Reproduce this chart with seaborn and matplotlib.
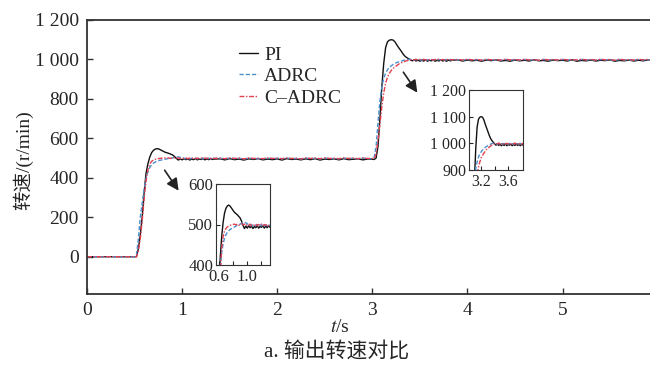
import pandas as pd
import seaborn as sb
import matplotlib.pyplot as plt

# time grid (s) shared by the three curves
t = [0, 0.5,
     0.52, 0.54, 0.56, 0.58, 0.60, 0.62, 0.64, 0.66, 0.68, 0.70, 0.72, 0.74, 0.76, 0.78,
     0.80, 0.82, 0.84, 0.86, 0.88, 0.90, 0.92, 0.94, 0.96, 0.98, 1.00, 1.02, 1.04, 1.06,
     1.08, 1.10, 1.12, 1.14, 1.16, 1.18, 1.20, 1.22, 1.24, 1.26, 1.28, 1.30, 1.32, 1.34,
     1.40, 1.45, 1.50, 1.55, 1.60, 1.65, 1.70, 1.75, 1.80, 1.85, 1.90, 1.95, 2.00, 2.05,
     2.10, 2.15, 2.20, 2.25, 2.30, 2.35, 2.40, 2.45, 2.50, 2.55, 2.60, 2.65, 2.70, 2.75,
     2.80, 2.85, 2.90, 2.95,
     3.00, 3.02, 3.04, 3.06, 3.08, 3.10, 3.12, 3.14, 3.16, 3.18, 3.20, 3.22, 3.24, 3.26,
     3.28, 3.30, 3.32, 3.34, 3.36, 3.38, 3.40, 3.42, 3.44, 3.46, 3.48, 3.50, 3.52, 3.54,
     3.56, 3.58, 3.60, 3.62, 3.64, 3.66, 3.68, 3.70, 3.72, 3.74, 3.76, 3.78, 3.80, 3.82, 3.84,
     3.90, 3.95, 4.00, 4.05, 4.10, 4.15, 4.20, 4.25, 4.30, 4.35, 4.40, 4.45, 4.50, 4.55,
     4.60, 4.65, 4.70, 4.75, 4.80, 4.85, 4.90, 4.95, 5.00, 5.05, 5.10, 5.15, 5.20, 5.25,
     5.30, 5.35, 5.40, 5.45, 5.50, 5.55, 5.60, 5.65, 5.70, 5.75, 5.80, 5.85, 5.90, 5.95]

speed_pi = [0, 0,
    0, 40, 110, 200, 320, 420, 470, 505, 528, 540,
    546, 548, 545, 540, 535, 530, 527, 524, 520, 516,
    508, 498, 490, 496, 491, 497, 492, 496, 490, 495,
    492, 497, 491, 495, 493, 497, 491, 496, 492, 497,
    493, 495,
    496, 491, 497, 492, 495, 490, 496, 493, 497, 491,
    495, 492, 496, 490, 497, 493, 495, 491, 496, 492,
    497, 490, 495, 493, 496, 491, 497, 492, 494, 496,
    491, 495,
    494, 493, 500, 560, 700, 860, 980, 1060, 1090, 1098,
    1100, 1098, 1088, 1072, 1058, 1045, 1030, 1018, 1010, 1004,
    998, 993, 998, 992, 997, 991, 996, 992, 998, 991,
    996, 993, 997, 991, 996, 992, 998, 992, 996, 991,
    997, 993, 996,
    998, 992, 997, 993, 996, 991, 997, 994, 998, 992,
    995, 991, 997, 993, 996, 992, 998, 993, 995, 991,
    997, 994, 996, 992, 998, 991, 995, 993, 997, 992,
    996, 994, 998, 991, 995, 993, 997, 992, 996, 993,
    998, 994]

speed_adrc = [0, 0,
    10, 90, 200, 270, 340, 395, 430, 452, 466, 475,
    481, 485, 488, 490, 492, 494, 496, 498, 499, 501,
    503, 505, 506, 504, 502, 499, 497, 500, 496, 499,
    497, 500, 496, 499, 497, 500, 496, 499, 497, 500,
    497, 499,
    499, 496, 500, 497, 499, 495, 500, 497, 498, 496,
    500, 497, 499, 496, 500, 497, 498, 495, 500, 497,
    499, 496, 500, 497, 498, 496, 500, 497, 499, 496,
    500, 497,
    497, 505, 560, 680, 790, 860, 905, 930, 948, 960,
    968, 975, 980, 985, 988, 991, 994, 997, 999, 1000,
    1001, 999, 997, 1000, 996, 999, 997, 1000, 996, 999,
    997, 1000, 996, 999, 997, 1000, 996, 999, 997, 1000,
    996, 999, 997,
    999, 996, 1000, 997, 999, 995, 1000, 997, 998, 996,
    1000, 997, 999, 996, 1000, 997, 998, 995, 1000, 997,
    999, 996, 1000, 997, 998, 996, 1000, 997, 999, 996,
    1000, 997, 999, 995, 1000, 997, 998, 996, 1000, 997,
    999, 996]

speed_cadrc = [0, 0,
    0, 30, 90, 180, 290, 380, 440, 470, 484, 490,
    494, 496, 498, 499, 500, 501, 499, 501, 498, 500,
    502, 499, 501, 497, 500, 498, 501, 497, 500, 498,
    501, 497, 500, 498, 501, 497, 500, 498, 501, 497,
    500, 498,
    500, 497, 501, 498, 500, 496, 501, 498, 499, 497,
    501, 498, 500, 497, 501, 498, 499, 496, 501, 498,
    500, 497, 501, 498, 499, 497, 501, 498, 500, 497,
    501, 498,
    498, 498, 520, 590, 670, 760, 830, 880, 910, 930,
    945, 955, 963, 970, 977, 982, 986, 990, 993, 996,
    998, 1000, 998, 1001, 997, 1000, 998, 1001, 997, 1000,
    998, 1001, 997, 1000, 998, 1001, 997, 1000, 998, 1001,
    997, 1000, 998,
    1000, 997, 1001, 998, 1000, 996, 1001, 998, 999, 997,
    1001, 998, 1000, 997, 1001, 998, 999, 996, 1001, 998,
    1000, 997, 1001, 998, 999, 997, 1001, 998, 1000, 997,
    1001, 998, 1000, 996, 1001, 998, 999, 997, 1001, 998,
    1000, 997]

labels = ['PI', 'ADRC', 'C–ADRC']
colors = ['#111111', '#4a90d0', '#e04050']
styles = ['-', (0, (3, 1.5)), (0, (3.5, 1.2, 1, 1.2))]

yticks = [0, 200, 400, 600, 800, 1000, 1200]
yticklabels = ['0', '200', '400', '600', '800', '1 000', '1 200']

df = pd.DataFrame({'t': t, 'PI': speed_pi, 'ADRC': speed_adrc, 'C–ADRC': speed_cadrc})

sb.set_style('ticks')
plt.rcParams['font.family'] = ['Liberation Serif', 'Noto Sans CJK SC']
plt.rcParams['mathtext.fontset'] = 'stix'
plt.rcParams['axes.edgecolor'] = '#333333'
plt.rcParams['xtick.direction'] = 'in'
plt.rcParams['ytick.direction'] = 'in'


def draw(ax, lw):
    for lab, c, ls in zip(labels, colors, styles):
        sb.lineplot(data=df, x='t', y=lab, ax=ax, color=c, linestyle=ls,
                    linewidth=lw, label=lab, sort=False, estimator=None)


fig = plt.figure(figsize=(6.5, 3.72), dpi=100)
ax = fig.add_axes([87/650, 1-294/372, 1-87/650, 274/372])
draw(ax, 1.0)
ax.set_xlim(0, 5.92)
ax.set_ylim(-189, 1200)
ax.set_xticks([0, 1, 2, 3, 4, 5])
ax.set_yticks(yticks)
ax.set_yticklabels(yticklabels)
ax.tick_params(labelsize=14, length=4, width=1, color='#333333', pad=6)
ax.spines['right'].set_visible(False)
for s in ['left', 'bottom', 'top']:
    ax.spines[s].set_linewidth(1.3)
ax.set_xlabel('')
ax.set_ylabel('')
ax.legend(loc='upper left', bbox_to_anchor=(0.27, 0.905), frameon=False,
          fontsize=14, handlelength=1.0, handletextpad=0.3, labelspacing=0.2,
          borderpad=0, borderaxespad=0)

ax.annotate('', xy=(0.98, 323), xytext=(0.80, 450),
            arrowprops=dict(arrowstyle='-|>', color='#222222', lw=1.2, mutation_scale=18))
ax.annotate('', xy=(3.49, 820), xytext=(3.31, 947),
            arrowprops=dict(arrowstyle='-|>', color='#222222', lw=1.2, mutation_scale=18))

# inset around first step
ax1 = fig.add_axes([216/650, 1-265/372, 54/650, 81/372])
draw(ax1, 1.0)
ax1.set_xlim(0.56, 1.32)
ax1.set_ylim(400, 600)
ax1.set_xticks([0.6, 0.8, 1.0, 1.2])
ax1.set_xticklabels(['0.6', '', '1.0', ''])
ax1.set_yticks([400, 500, 600])
ax1.set_yticklabels(['400', '500', '600'])
ax1.tick_params(labelsize=12, length=3)
ax1.tick_params(axis='y', pad=2)
ax1.tick_params(axis='x', pad=3)
ax1.set_xlabel('')
ax1.set_ylabel('')
ax1.get_legend().remove()

# inset around second step
ax2 = fig.add_axes([469/650, 1-170/372, 54/650, 80/372])
draw(ax2, 1.0)
ax2.set_xlim(3.02, 3.82)
ax2.set_ylim(900, 1200)
ax2.set_xticks([3.2, 3.4, 3.6])
ax2.set_xticklabels(['3.2', '', '3.6'])
ax2.set_yticks([900, 1000, 1100, 1200])
ax2.set_yticklabels(['900', '1 000', '1 100', '1 200'])
ax2.tick_params(labelsize=11.5, length=3)
ax2.tick_params(axis='y', pad=2)
ax2.tick_params(axis='x', pad=3)
ax2.set_xlabel('')
ax2.set_ylabel('')
ax2.get_legend().remove()

fig.text(23/650, 1-160/372, '转速/(r/min)', rotation=90, ha='center', va='center', fontsize=14)
fig.text(340/650, 1-327/372, '$t$/s', ha='center', va='center', fontsize=14)
fig.text(337/650, 1-352/372, 'a. 输出转速对比', ha='center', va='center', fontsize=15)

fig.savefig('out.png', dpi=100)
